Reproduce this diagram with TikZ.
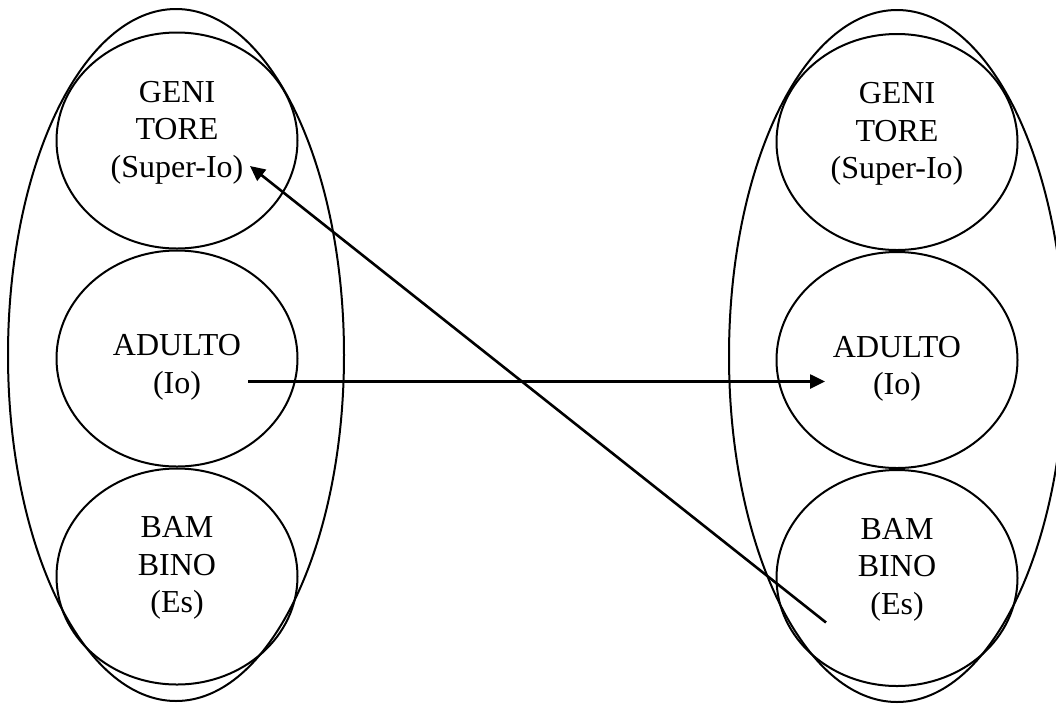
\documentclass[tikz,border=0pt]{standalone}
\usepackage{fontspec}
\setmainfont{Liberation Serif}
\usetikzlibrary{arrows.meta,shapes.geometric,positioning}
\tikzset{
  ell_n/.style = {ellipse, draw=black, line width=1pt, inner sep=0pt},
  ell_big/.style = {ell_n, minimum width=168pt, minimum height=346pt},% ellisse esterna
  ell_s/.style = {ell_n, minimum width=120.5pt, minimum height=108pt},% stato dell'io
  ell_t/.style = {align=center, inner sep=0pt,
    font=\fontsize{16}{18.75}\selectfont},% testo dello stato
  trans/.style = {->, line width=1.3pt}% transazione
}
\begin{document}
\begin{tikzpicture}[x=0.5pt,y=-0.5pt,>={Triangle[length=7.5pt,width=7pt]}]
\useasboundingbox (0,0) rectangle (1056,703);
% persona di sinistra
\node [ell_big] (bigL) at (176,355) {};
\node [ell_s] (genL) at (177,140.5) {};
\node [ell_s, below=0pt of genL] (aduL) {};
\node [ell_s, below=0pt of aduL] (bamL) {};
% persona di destra
\node [ell_big] (bigR) at (897,356) {};
\node [ell_s] (genR) at (897,142) {};
\node [ell_s, below=0pt of genR] (aduR) {};
\node [ell_s, below=0pt of aduR] (bamR) {};
% testi
\node [ell_t, yshift=4pt] (genLt) at (genL) {GENI\\TORE\\(Super-Io)};
\node [ell_t, yshift=-4.5pt] (aduLt) at (aduL) {ADULTO\\(Io)};
\node [ell_t, yshift=4.25pt] (bamLt) at (bamL) {BAM\\BINO\\(Es)};
\node [ell_t, yshift=4pt] (genRt) at (genR) {GENI\\TORE\\(Super-Io)};
\node [ell_t, yshift=-4.5pt] (aduRt) at (aduR) {ADULTO\\(Io)};
\node [ell_t, yshift=4.25pt] (bamRt) at (bamR) {BAM\\BINO\\(Es)};
% transazioni
\coordinate (aduLo) at ([shift={(71,23)}]aduL.center);
\coordinate (aduRi) at ([shift={(-72,21.5)}]aduR.center);
\coordinate (bamRo) at ([shift={(-71,44.5)}]bamR.center);
\coordinate (genLi) at ([shift={(73,25.5)}]genL.center);
\draw [trans] (aduLo) -- (aduRi);
\draw [trans] (bamRo) -- (genLi);
\end{tikzpicture}
\end{document}
